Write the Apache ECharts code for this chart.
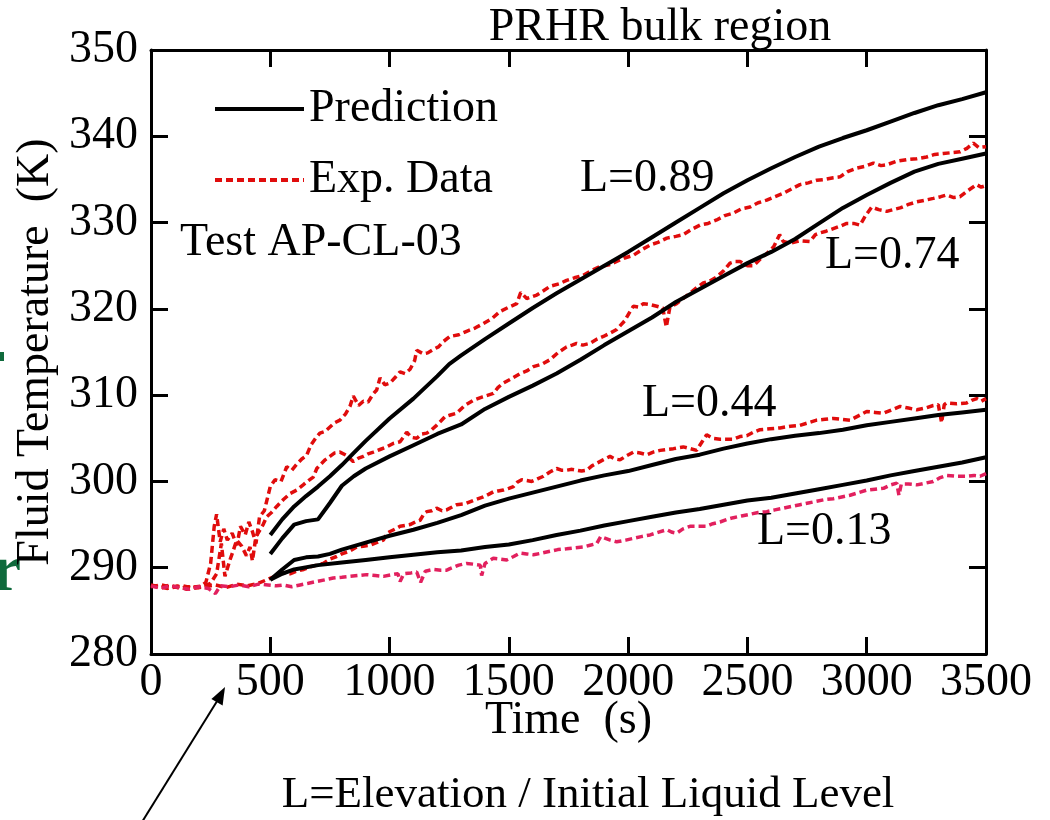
<!DOCTYPE html>
<html>
<head>
<meta charset="utf-8">
<script src="https://cdn.jsdelivr.net/npm/echarts@6/dist/echarts.min.js"></script>
<style>
  html, body { margin: 0; padding: 0; background: #ffffff; }
  #chart { width: 1050px; height: 820px; }
</style>
</head>
<body>
<div id="chart"></div>
<script>
// Axis ranges (time in s, fluid temperature in K)
const timeRange = [0, 3500, 500];
const tempRange = [280, 350, 10];

// Predicted fluid temperature, [time, temperature]
const predL089 = [[500,293.8],[550,295.6],[600,297.1],[650,298.3],[700,299.4],[750,300.6],[800,301.9],[850,303.3],[900,304.7],[1000,307.3],[1100,309.6],[1200,312.2],[1250,313.6],[1300,314.6],[1400,316.5],[1500,318.3],[1600,320.1],[1700,321.8],[1800,323.4],[1900,325.0],[2000,326.6],[2100,328.3],[2200,330.0],[2300,331.7],[2400,333.4],[2500,334.9],[2600,336.3],[2700,337.6],[2800,338.8],[2900,339.8],[3000,340.7],[3100,341.7],[3200,342.7],[3300,343.6],[3400,344.3],[3500,345.1]];
const predL074 = [[500,291.6],[550,293.4],[600,295.0],[650,295.4],[700,295.6],[750,297.5],[800,299.5],[850,300.6],[900,301.5],[1000,302.9],[1100,304.2],[1200,305.5],[1300,306.6],[1400,308.4],[1500,309.8],[1600,311.1],[1700,312.5],[1800,314.1],[1900,315.8],[2000,317.4],[2100,319.0],[2200,320.8],[2300,322.3],[2400,323.8],[2500,325.3],[2600,326.6],[2700,328.1],[2800,329.9],[2900,331.7],[3000,333.2],[3100,334.6],[3200,335.9],[3300,336.8],[3400,337.4],[3500,338.0]];
const predL044 = [[500,288.6],[550,289.8],[600,290.9],[650,291.2],[700,291.3],[750,291.6],[800,292.1],[900,292.9],[1000,293.7],[1100,294.4],[1200,295.2],[1300,296.1],[1400,297.2],[1500,298.0],[1600,298.7],[1700,299.4],[1800,300.1],[1900,300.7],[2000,301.2],[2100,301.9],[2200,302.6],[2300,303.1],[2400,303.8],[2500,304.4],[2600,304.9],[2700,305.3],[2800,305.6],[2900,306.0],[3000,306.5],[3100,306.9],[3200,307.3],[3300,307.7],[3400,308.0],[3500,308.3]];
const predL013 = [[500,288.6],[550,289.3],[600,289.8],[700,290.3],[800,290.6],[900,290.9],[1000,291.2],[1100,291.5],[1200,291.8],[1300,292.0],[1400,292.4],[1500,292.7],[1600,293.2],[1700,293.8],[1800,294.3],[1900,294.9],[2000,295.4],[2100,295.9],[2200,296.4],[2300,296.8],[2400,297.3],[2500,297.8],[2600,298.1],[2700,298.6],[2800,299.1],[2900,299.6],[3000,300.1],[3100,300.7],[3200,301.2],[3300,301.7],[3400,302.2],[3500,302.8]];

// Measured fluid temperature, [time, temperature]
const expL089 = [[0,287.9],[40,287.7],[80,288.0],[120,287.6],[160,287.8],[200,287.7],[230,288.3],[250,290.5],[265,294.8],[275,296.2],[290,293.0],[305,294.5],[320,293.2],[340,294.0],[360,292.6],[375,294.8],[395,293.8],[410,295.3],[425,294.2],[440,292.8],[455,295.9],[475,296.6],[500,299.4],[520,300.2],[545,300.0],[569,301.7],[590,301.3],[611,302.0],[632,302.6],[652,303.0],[670,304.2],[690,305.0],[708,305.6],[730,305.8],[750,306.3],[770,306.8],[792,307.1],[815,307.8],[834,308.7],[848,309.9],[870,308.8],[890,309.3],[910,309.2],[930,310.1],[946,310.6],[960,312.0],[980,311.2],[1002,311.4],[1025,312.1],[1044,312.7],[1065,312.5],[1086,313.0],[1105,314.0],[1114,315.2],[1141,314.8],[1160,314.9],[1183,315.3],[1205,315.6],[1225,316.2],[1253,316.8],[1290,317.0],[1323,317.4],[1360,317.8],[1393,318.3],[1430,318.9],[1463,319.7],[1500,320.2],[1533,320.6],[1550,321.9],[1575,321.2],[1617,321.6],[1645,322.1],[1672,322.6],[1710,322.9],[1742,323.3],[1775,323.6],[1812,323.9],[1850,324.5],[1882,324.9],[1920,325.1],[1952,325.5],[1985,325.9],[2022,326.2],[2060,326.9],[2092,327.4],[2125,327.7],[2162,328.2],[2200,328.4],[2231,328.6],[2265,329.2],[2301,329.7],[2335,329.9],[2371,330.3],[2405,330.8],[2441,331.1],[2475,331.6],[2511,331.8],[2545,332.3],[2581,332.6],[2615,333.0],[2651,333.4],[2685,333.9],[2720,334.4],[2755,334.6],[2790,334.9],[2825,335.0],[2860,335.2],[2888,335.3],[2920,335.9],[2958,336.3],[2990,336.5],[3028,336.9],[3060,336.6],[3084,336.7],[3125,337.1],[3168,337.3],[3210,337.4],[3251,337.6],[3285,337.9],[3321,338.0],[3355,338.1],[3391,338.2],[3420,338.6],[3447,339.2],[3470,338.7],[3500,338.8]];
const expL074 = [[0,288.0],[35,287.8],[70,287.6],[110,287.9],[150,287.5],[190,287.8],[225,287.9],[250,288.2],[275,289.3],[295,292.8],[310,289.0],[331,290.9],[345,292.0],[359,293.2],[380,292.5],[400,291.4],[415,292.4],[425,290.8],[440,293.6],[457,294.4],[470,295.0],[485,295.9],[505,296.4],[527,297.1],[555,297.9],[583,298.6],[611,299.0],[638,299.6],[660,300.1],[680,300.5],[695,301.5],[708,301.9],[730,302.5],[750,302.9],[770,303.3],[792,303.4],[820,303.0],[848,302.3],[870,302.7],[890,302.9],[910,303.2],[932,303.4],[960,303.7],[988,304.0],[1015,304.4],[1044,304.6],[1060,305.2],[1072,305.7],[1092,305.1],[1114,305.0],[1135,305.5],[1156,305.6],[1177,306.0],[1197,306.5],[1215,307.0],[1232,307.5],[1255,307.7],[1281,307.9],[1315,308.8],[1351,309.4],[1390,309.8],[1435,310.2],[1455,310.9],[1477,311.4],[1510,311.9],[1547,312.5],[1575,312.8],[1603,313.3],[1640,313.6],[1672,314.1],[1705,314.9],[1742,315.6],[1765,315.8],[1784,316.0],[1810,315.8],[1840,316.0],[1870,316.5],[1896,316.8],[1925,317.2],[1952,317.6],[1985,318.6],[2010,319.8],[2022,320.3],[2045,320.2],[2064,320.6],[2090,320.5],[2120,320.3],[2145,320.1],[2160,317.9],[2175,320.2],[2203,320.6],[2230,321.2],[2259,321.8],[2285,322.4],[2315,323.0],[2340,323.2],[2371,323.7],[2400,324.4],[2427,325.3],[2450,325.5],[2469,325.5],[2500,325.0],[2525,325.0],[2555,325.8],[2581,326.4],[2610,327.2],[2635,328.6],[2650,327.8],[2680,327.6],[2720,327.9],[2762,327.8],[2785,328.6],[2804,328.8],[2830,329.0],[2860,329.3],[2890,329.6],[2916,329.9],[2945,329.9],[2972,329.7],[2995,330.8],[3021,331.8],[3050,331.5],[3084,331.3],[3110,331.5],[3140,331.7],[3175,332.1],[3210,332.4],[3245,332.6],[3279,332.8],[3310,333.0],[3335,333.2],[3365,332.9],[3391,333.0],[3419,333.6],[3440,334.0],[3461,334.4],[3480,334.1],[3500,334.3]];
const expL044 = [[0,287.8],[45,288.0],[90,287.7],[135,287.9],[180,287.6],[225,287.8],[270,288.0],[315,287.7],[360,288.1],[405,287.9],[450,288.2],[485,288.6],[520,289.0],[555,289.4],[583,289.3],[611,289.6],[640,289.8],[666,290.1],[695,290.3],[722,290.5],[750,291.0],[778,291.3],[800,291.6],[830,291.9],[862,292.4],[890,292.5],[918,292.6],[945,292.9],[974,293.2],[990,294.0],[1002,294.2],[1025,294.5],[1044,294.8],[1065,294.9],[1086,295.0],[1108,295.3],[1128,295.5],[1145,296.3],[1156,296.5],[1177,296.6],[1197,296.9],[1220,296.6],[1239,296.7],[1260,297.0],[1281,297.3],[1315,297.4],[1351,297.8],[1372,298.0],[1393,298.2],[1415,298.5],[1435,298.8],[1455,298.9],[1477,299.0],[1500,299.2],[1519,299.4],[1535,299.9],[1554,300.2],[1575,300.1],[1596,300.0],[1620,300.3],[1645,300.6],[1672,301.1],[1700,301.5],[1720,301.3],[1742,301.3],[1765,301.4],[1784,301.3],[1805,301.2],[1826,301.3],[1848,301.8],[1868,302.1],[1895,302.5],[1924,302.9],[1945,302.6],[1966,302.5],[1995,303.0],[2022,303.4],[2050,303.3],[2078,303.1],[2105,303.4],[2134,303.6],[2160,303.7],[2190,303.8],[2210,303.9],[2231,304.0],[2260,303.8],[2287,303.6],[2310,304.6],[2329,305.4],[2355,305.0],[2385,304.9],[2410,304.9],[2441,304.9],[2469,305.2],[2497,305.3],[2525,305.7],[2553,306.0],[2595,306.1],[2637,306.2],[2680,306.4],[2720,306.5],[2755,306.8],[2790,307.1],[2825,307.2],[2860,307.3],[2895,307.2],[2930,307.1],[2965,307.6],[3000,308.1],[3035,308.0],[3070,307.9],[3105,308.3],[3140,308.7],[3175,308.5],[3210,308.3],[3245,308.5],[3279,308.8],[3300,308.9],[3314,306.8],[3325,308.9],[3335,309.1],[3377,309.0],[3419,309.1],[3440,309.4],[3461,309.6],[3480,309.3],[3500,309.6]];
const expL013 = [[0,287.9],[40,287.6],[80,287.9],[120,287.7],[160,287.5],[200,287.8],[240,287.6],[270,287.0],[290,287.9],[330,287.8],[370,288.0],[410,287.8],[450,288.1],[490,288.0],[525,287.9],[555,288.0],[590,287.8],[625,288.0],[660,288.2],[694,288.4],[730,288.6],[764,288.8],[800,288.9],[834,289.0],[870,289.1],[904,289.2],[940,289.1],[974,289.0],[1010,289.2],[1035,289.3],[1044,288.4],[1060,289.3],[1090,289.4],[1114,289.5],[1130,288.3],[1150,289.6],[1183,289.8],[1215,289.7],[1239,289.7],[1253,289.9],[1290,290.3],[1323,290.5],[1355,290.4],[1380,290.3],[1386,289.1],[1400,290.5],[1435,291.1],[1465,291.0],[1491,290.9],[1520,291.3],[1547,291.7],[1575,291.6],[1603,291.5],[1640,291.7],[1672,291.9],[1705,292.1],[1742,292.2],[1775,292.3],[1812,292.4],[1840,292.6],[1868,292.8],[1885,293.6],[1896,293.5],[1925,293.2],[1952,293.0],[1990,293.2],[2022,293.4],[2055,293.6],[2092,293.8],[2125,294.1],[2162,294.4],[2185,294.1],[2203,294.0],[2230,294.5],[2259,294.8],[2295,294.8],[2329,294.8],[2355,295.1],[2385,295.3],[2415,295.6],[2441,295.8],[2475,296.0],[2511,296.2],[2545,296.4],[2581,296.5],[2615,296.7],[2651,296.9],[2685,297.1],[2720,297.3],[2755,297.5],[2790,297.7],[2825,297.9],[2860,298.0],[2895,298.2],[2930,298.4],[2965,298.7],[3000,299.0],[3035,299.1],[3070,299.2],[3100,299.6],[3126,299.8],[3135,298.4],[3145,299.7],[3175,299.7],[3210,299.6],[3245,299.8],[3279,300.0],[3305,300.4],[3335,300.7],[3377,300.6],[3419,300.6],[3450,300.7],[3475,300.6],[3500,300.9]];

// Legend entries and curve annotations
const legendNames = ['Prediction', 'Exp. Data'];
const curveLabels = ['L=0.89', 'L=0.74', 'L=0.44', 'L=0.13'];

const SERIF = '"Liberation Serif", "Times New Roman", serif';
const RED = '#e00c0c';
const PINK = '#e2205e';

const chart = echarts.init(document.getElementById('chart'), null, { renderer: 'canvas' });

function expSeries(data, color) {
  return {
    name: legendNames[1], type: 'line', data: data, symbol: 'none', z: 2,
    lineStyle: { color: color, width: 3.5, type: [7, 4], cap: 'butt' },
    itemStyle: { color: color }
  };
}
function predSeries(data) {
  return {
    name: legendNames[0], type: 'line', data: data, symbol: 'none', z: 3,
    lineStyle: { color: '#000000', width: 4 },
    itemStyle: { color: '#000000' }
  };
}

const frameAxis = {
  axisLine: { show: true, onZero: false, lineStyle: { color: '#000', width: 3 } },
  axisTick: { show: true, inside: true, length: 17, lineStyle: { color: '#000', width: 3 } },
  splitLine: { show: false }
};
const plainNumber = v => String(v);

const option = {
  animation: false,
  backgroundColor: '#ffffff',
  grid: { left: 151, right: 64, top: 50, bottom: 166 },
  legend: {
    data: legendNames,
    orient: 'vertical',
    left: 208, top: 79,
    itemWidth: 89, itemHeight: 12, itemGap: 21,
    selectedMode: false,
    itemStyle: { opacity: 0 },
    lineStyle: { width: 4 },
    textStyle: { fontFamily: SERIF, fontSize: 46, color: '#000', lineHeight: 50 }
  },
  xAxis: [
    Object.assign({
      type: 'value', min: timeRange[0], max: timeRange[1], interval: timeRange[2], position: 'bottom',
      name: 'Time  (s)', nameLocation: 'middle', nameGap: 44, nameMoveOverlap: false,
      nameTextStyle: { fontFamily: SERIF, fontSize: 46, color: '#000' },
      axisLabel: { fontFamily: SERIF, fontSize: 46, color: '#000', margin: 6, formatter: plainNumber }
    }, frameAxis),
    Object.assign({
      type: 'value', min: timeRange[0], max: timeRange[1], interval: timeRange[2], position: 'top',
      axisLabel: { show: false }
    }, frameAxis)
  ],
  yAxis: [
    Object.assign({
      type: 'value', min: tempRange[0], max: tempRange[1], interval: tempRange[2], position: 'left',
      name: 'Fluid Temperature  (K)', nameLocation: 'middle', nameGap: 92, nameMoveOverlap: false,
      nameTextStyle: { fontFamily: SERIF, fontSize: 46, color: '#000' },
      axisLabel: { fontFamily: SERIF, fontSize: 46, color: '#000', margin: 13, formatter: plainNumber }
    }, frameAxis),
    Object.assign({
      type: 'value', min: tempRange[0], max: tempRange[1], interval: tempRange[2], position: 'right',
      axisLabel: { show: false }
    }, frameAxis)
  ],
  series: [
    expSeries(expL089, RED),
    expSeries(expL074, RED),
    expSeries(expL044, RED),
    expSeries(expL013, PINK),
    predSeries(predL089),
    predSeries(predL074),
    predSeries(predL044),
    predSeries(predL013)
  ],
  graphic: [
    { type: 'text', x: 660, y: 28, style: { text: 'PRHR bulk region', font: '46px ' + SERIF, fill: '#000', textAlign: 'center', textVerticalAlign: 'middle' } },
    { type: 'text', x: 180, y: 243, style: { text: 'Test AP-CL-03', font: '46px ' + SERIF, fill: '#000', textAlign: 'left', textVerticalAlign: 'middle' } },
    { type: 'text', x: 580, y: 179, style: { text: curveLabels[0], font: '46px ' + SERIF, fill: '#000', textAlign: 'left', textVerticalAlign: 'middle' } },
    { type: 'text', x: 825, y: 256, style: { text: curveLabels[1], font: '46px ' + SERIF, fill: '#000', textAlign: 'left', textVerticalAlign: 'middle' } },
    { type: 'text', x: 642, y: 404, style: { text: curveLabels[2], font: '46px ' + SERIF, fill: '#000', textAlign: 'left', textVerticalAlign: 'middle' } },
    { type: 'text', x: 757, y: 532, style: { text: curveLabels[3], font: '46px ' + SERIF, fill: '#000', textAlign: 'left', textVerticalAlign: 'middle' } },
    { type: 'text', x: 588, y: 795, style: { text: 'L=Elevation / Initial Liquid Level', font: '45px ' + SERIF, fill: '#000', textAlign: 'center', textVerticalAlign: 'middle' } },
    // pointer arrow toward the 500 s mark
    { type: 'polyline', shape: { points: [[142, 822], [219, 698]] }, style: { stroke: '#000', lineWidth: 2, fill: null } },
    { type: 'polygon', shape: { points: [[225, 687], [222.6, 705.5], [211.4, 699.1]] }, style: { fill: '#000' } },
    // green fragments along the left border
    { type: 'rect', shape: { x: 0, y: 352, width: 4, height: 9 }, style: { fill: '#0f6a3c' } },
    { type: 'text', x: 21, y: 606, style: { text: 'r', font: 'bold 66px ' + SERIF, fill: '#0f6a3c', textAlign: 'right', textVerticalAlign: 'bottom' } }
  ]
};

chart.setOption(option);
</script>
</body>
</html>
